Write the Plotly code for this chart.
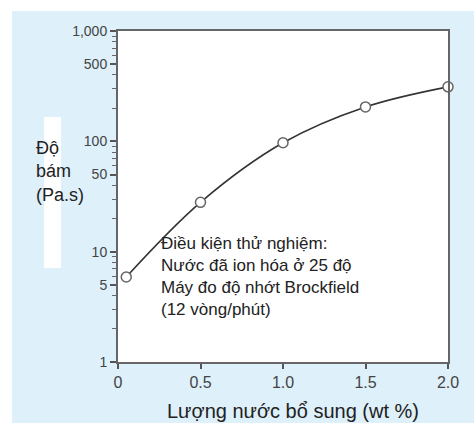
import plotly.graph_objects as go

# Data
water_wt = [0.05, 0.5, 1.0, 1.5, 2.0]
viscosity_pas = [5.9, 28, 97, 205, 312]

x_tick_vals = [0, 0.5, 1.0, 1.5, 2.0]
x_tick_text = ["0", "0.5", "1.0", "1.5", "2.0"]
y_tick_vals = [1, 5, 10, 50, 100, 500, 1000]
y_tick_text = ["1", "5", "10", "50", "100", "500", "1,000"]
y_minor_vals = [k * 10 ** d for d in range(3) for k in range(2, 10)]

y_title = "Độ<br>bám<br>(Pa.s)"
x_title = "Lượng nước bổ sung (wt %)"
note_text = ("Điều kiện thử nghiệm:<br>Nước đã ion hóa ở 25 độ<br>"
             "Máy đo độ nhớt Brockfield<br>(12 vòng/phút)")

W, H = 474, 423
L, R, T, B = 118, 26, 31, 61
PW, PH = W - L - R, H - T - B


def px(xp):
    return (xp - L) / PW


def py(yp):
    return (H - B - yp) / PH


FONT = "Liberation Sans, Arial, sans-serif"
BLUE = "#def0fa"

fig = go.Figure()
fig.add_trace(go.Scatter(
    x=water_wt, y=viscosity_pas,
    mode="lines+markers",
    line=dict(color="#333333", width=1.6, shape="spline", smoothing=1.0),
    marker=dict(size=10, color="white", line=dict(color="#666666", width=1.5)),
    cliponaxis=False,
    hoverinfo="skip",
))

fig.update_layout(
    width=W, height=H,
    margin=dict(l=L, r=R, t=T, b=B),
    paper_bgcolor=BLUE,
    plot_bgcolor="white",
    showlegend=False,
    font=dict(family=FONT, color="#333333"),
    xaxis=dict(
        range=[0, 2.0], tickvals=x_tick_vals, ticktext=x_tick_text,
        showgrid=False, zeroline=False,
        showline=True, linecolor="#666666", linewidth=2, mirror=True,
        ticks="outside", ticklen=5, tickwidth=1.5, tickcolor="#555555",
        tickfont=dict(size=16, color="#444444"),
    ),
    yaxis=dict(
        type="log", range=[0, 3], tickvals=y_tick_vals, ticktext=y_tick_text,
        showgrid=False, zeroline=False,
        showline=True, linecolor="#666666", linewidth=2, mirror=True,
        ticks="outside", ticklen=6, tickwidth=1.5, tickcolor="#555555",
        tickfont=dict(size=14, color="#444444"),
        minor=dict(tickvals=y_minor_vals, ticks="outside", ticklen=4,
                   tickwidth=1, tickcolor="#666666", showgrid=False),
    ),
    shapes=[
        # white strips on top and left of the picture
        dict(type="rect", xref="paper", yref="paper", layer="below",
             x0=px(0), x1=px(W), y0=py(11), y1=py(0),
             fillcolor="white", line=dict(width=0)),
        dict(type="rect", xref="paper", yref="paper", layer="below",
             x0=px(0), x1=px(12), y0=py(H), y1=py(0),
             fillcolor="white", line=dict(width=0)),
        # white strip behind the y title
        dict(type="rect", xref="paper", yref="paper", layer="below",
             x0=px(44), x1=px(61), y0=py(268), y1=py(117),
             fillcolor="white", line=dict(width=0)),
    ],
    annotations=[
        dict(text=y_title, xref="paper", yref="paper",
             x=px(34), y=py(136), xanchor="left", yanchor="top",
             align="left", showarrow=False,
             font=dict(size=18, color="#222222", family=FONT)),
        dict(text=note_text, xref="paper", yref="paper",
             x=px(159), y=py(232), xanchor="left", yanchor="top",
             align="left", showarrow=False,
             font=dict(size=17, color="#222222", family=FONT)),
        dict(text=x_title, xref="paper", yref="paper",
             x=px(293), y=py(411), xanchor="center", yanchor="middle",
             showarrow=False,
             font=dict(size=20, color="#222222", family=FONT)),
    ],
)

fig.write_html("out.html")
